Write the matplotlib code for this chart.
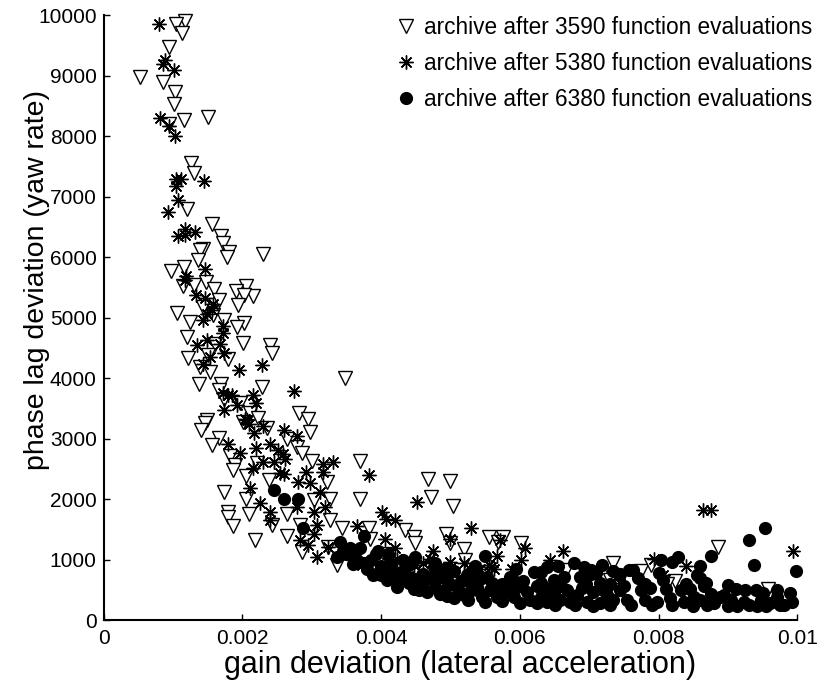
import numpy as np
import matplotlib
matplotlib.use("Agg")
import matplotlib.pyplot as plt

# archive after 3590 function evaluations (gain in 1e-3, phase lag)
gain_3590 = np.array([
    1.18, 1.05, 1.13, 0.94, 0.53, 0.85, 1.03, 1.01, 1.16, 1.50, 0.95, 1.26, 1.31, 1.20,
    1.56, 1.69, 1.72, 1.44, 1.39, 1.81, 1.78, 2.30, 1.36, 0.97, 1.16, 1.15, 1.48, 1.31,
    1.59, 2.06, 1.91, 2.15, 2.03, 1.66, 1.44, 1.94, 1.06, 1.25, 1.58, 1.73, 2.03, 1.93,
    1.20, 1.61, 2.01, 2.40, 2.43, 1.21, 1.51, 1.79, 1.39, 1.54, 3.48, 1.38, 1.69, 2.28,
    1.67, 1.73, 1.96, 2.81, 2.95, 2.11, 1.49, 1.46, 1.40, 1.67, 1.56, 2.01, 2.22, 2.36,
    2.98, 2.64, 2.79, 2.86, 3.00, 3.70, 1.82, 1.90, 1.87, 2.21, 2.06, 2.38, 3.22, 1.73,
    2.06, 3.70, 3.03, 3.27, 1.79, 1.80, 2.09, 2.64, 1.86, 2.43, 2.64, 2.83, 2.18, 3.26,
    3.44, 3.82, 2.86, 3.36, 4.35, 4.47, 4.49, 3.24, 4.67, 4.99, 4.72, 5.03, 4.93, 5.00,
    5.20, 5.21, 5.55, 5.76, 5.68, 6.01, 7.34, 7.35, 4.49, 3.84, 4.06, 8.85, 7.74, 7.89,
    8.24, 8.12, 7.30, 9.57, 6.66,
]) * 1e-3
phase_3590 = np.array([
    9910, 9850, 9700, 9470, 8980, 8900, 8730, 8540, 8270, 8310, 8200, 7550, 7400, 6790,
    6550, 6350, 6230, 6140, 6120, 6090, 6000, 6060, 5960, 5770, 5840, 5520, 5590, 5540,
    5470, 5520, 5440, 5360, 5370, 5290, 5180, 5210, 5080, 4930, 5040, 4960, 4910, 4850,
    4680, 4570, 4580, 4550, 4420, 4340, 4380, 4310, 4190, 4100, 4000, 3910, 3910, 3850,
    3800, 3650, 3590, 3420, 3330, 3420, 3310, 3260, 3140, 3020, 2890, 3280, 3350, 3170,
    3110, 3000, 2860, 2770, 2640, 2640, 2710, 2560, 2480, 2600, 2380, 2310, 2290, 2120,
    2010, 2000, 1980, 2010, 1790, 1710, 1760, 1760, 1550, 1570, 1400, 1570, 1320, 1650,
    1520, 1520, 1130, 910, 1490, 1380, 1270, 1210, 2330, 2300, 2040, 1880, 1420, 1270,
    1170, 1000, 1370, 1380, 1290, 1280, 940, 690, 850, 1350, 1100, 1210, 815, 910,
    650, 605, 660, 510, 830,
])

# archive after 5380 function evaluations
gain_5380 = np.array([
    0.80, 0.89, 0.86, 1.02, 0.81, 0.95, 1.03, 1.04, 1.11, 1.45, 1.05, 1.08, 0.93,
    1.17, 1.08, 1.18, 1.32, 1.46, 1.19, 1.18, 1.33, 1.46, 1.58, 1.56, 1.49, 1.44,
    1.72, 1.72, 1.49, 1.35, 1.68, 1.73, 1.54, 1.44, 1.95, 2.28, 2.75, 2.16, 1.72,
    1.80, 1.85, 2.20, 1.73, 1.92, 2.04, 2.07, 2.10, 2.30, 2.17, 2.60, 2.79, 1.80,
    2.19, 2.40, 2.51, 2.59, 2.62, 1.97, 2.45, 2.30, 3.16, 3.31, 2.15, 2.55, 2.60,
    2.92, 3.17, 3.83, 2.11, 2.80, 2.98, 3.12, 2.26, 2.40, 2.79, 3.03, 3.19, 2.40,
    3.08, 4.01, 4.07, 4.20, 3.65, 3.03, 2.83, 2.95, 3.24, 3.08, 4.06, 4.20, 4.08,
    4.52, 5.29, 4.99, 6.08, 5.67, 6.02, 6.62, 6.44, 4.75, 4.99, 5.19, 5.43, 5.56,
    5.63, 5.89, 5.01, 4.47, 3.72, 4.23, 4.61, 4.71, 5.72, 5.59, 8.64, 8.75, 9.94,
    8.39, 7.93, 8.07, 7.45,
]) * 1e-3
phase_5380 = np.array([
    9860, 9260, 9190, 9100, 8300, 8170, 8010, 7290, 7290, 7260, 7170, 6940, 6750,
    6470, 6350, 6360, 6410, 5800, 5690, 5620, 5370, 5320, 5220, 5120, 5070, 4970,
    4860, 4740, 4640, 4550, 4570, 4410, 4350, 4240, 4140, 4220, 3790, 3720, 3750,
    3720, 3720, 3590, 3480, 3550, 3330, 3310, 3240, 3210, 3100, 3140, 3040, 2920,
    2850, 2920, 2810, 2740, 2670, 2760, 2620, 2620, 2590, 2620, 2510, 2430, 2410,
    2450, 2450, 2400, 2180, 2290, 2270, 2120, 1930, 1790, 1870, 1790, 1870, 1650,
    1570, 1790, 1680, 1650, 1550, 1430, 1320, 1240, 1210, 1050, 1350, 1190, 1100,
    1960, 1520, 1350, 1190, 1070, 1000, 1150, 1000, 1150, 960, 940, 850, 910,
    850, 840, 880, 910, 910, 1020, 940, 1020, 1320, 880, 1830, 1830, 1150,
    900, 1020, 740, 620,
])

# archive after 6380 function evaluations
gain_6380 = np.array([
    2.46, 2.60, 2.80, 2.87, 3.41, 3.55, 3.76, 3.37, 3.59, 3.92, 3.93, 4.13, 4.18,
    4.40, 4.49, 4.52, 4.32, 3.89, 4.06, 4.57, 4.76, 4.78, 4.95, 5.09, 5.24, 5.38,
    4.28, 4.61, 4.71, 4.90, 5.14, 4.08, 4.23, 4.47, 4.66, 4.78, 5.50, 5.26, 6.20,
    6.39, 6.78, 7.19, 7.02, 5.86, 5.36, 5.53, 5.89, 6.92, 7.43, 7.57, 6.63, 6.87,
    7.02, 6.49, 5.38, 5.57, 5.77, 5.96, 6.10, 6.30, 6.49, 6.68, 6.83, 7.06, 7.26,
    7.45, 5.67, 5.91, 6.15, 6.39, 6.58, 6.73, 6.97, 7.16, 7.35, 7.55, 9.53, 9.31,
    9.38, 9.98, 8.76, 8.59, 8.56, 8.68, 8.04, 8.28, 8.20, 7.63, 7.45, 8.07, 9.11,
    9.41, 9.71, 9.93, 9.81, 7.74, 7.88, 8.32, 8.46, 8.75, 8.89, 9.04, 9.23, 9.47,
    9.61, 7.81, 7.98, 8.17, 8.36, 8.60, 8.80, 9.13, 9.42, 8.94, 7.26, 8.51, 5.45,
    5.20, 5.05, 5.15, 5.30, 5.45, 5.60, 5.75, 5.85, 6.05, 6.25, 6.40, 6.55, 6.95,
    7.15, 7.30, 4.85, 4.60, 4.40, 4.95, 5.25, 3.65, 3.80, 4.00, 4.35, 3.50, 3.70,
    4.85, 5.05, 5.25, 5.50, 5.75, 6.00, 6.25, 6.50, 6.80, 7.05, 7.30, 7.60, 7.90,
    8.20, 8.50, 8.70, 9.00, 9.30, 9.55, 9.75,
    5.00, 5.35, 5.70, 6.00, 6.30, 6.60, 6.90, 7.20, 7.50, 7.80, 8.10, 8.40, 8.65,
    9.00, 9.25, 9.50, 9.70, 9.90,
    4.45, 4.90, 5.35, 5.95, 6.30, 6.55, 7.10, 7.35, 7.70, 8.00, 8.60,
    3.45, 3.60, 3.75, 3.85, 4.00, 4.15, 4.30, 4.45, 4.25, 4.55, 3.95, 4.10,
]) * 1e-3
phase_6380 = np.array([
    2160, 2000, 2000, 1530, 1290, 1190, 1400, 1040, 930, 1090, 770, 940, 720,
    620, 1050, 580, 990, 740, 830, 610, 880, 550, 660, 550, 740, 500,
    800, 770, 690, 500, 470, 660, 550, 520, 470, 940, 1070, 770, 800,
    880, 950, 910, 830, 720, 770, 720, 690, 880, 770, 830, 720, 720,
    770, 660, 550, 500, 470, 550, 470, 390, 440, 500, 410, 470, 410,
    500, 390, 390, 330, 300, 330, 300, 300, 280, 330, 330, 1530, 1320,
    920, 815, 1060, 900, 740, 610, 1000, 1040, 960, 830, 760, 660, 510,
    500, 500, 300, 260, 500, 540, 500, 520, 440, 390, 330, 300, 330,
    280, 330, 300, 360, 300, 330, 280, 230, 230, 410, 550, 390, 380,
    420, 820, 650, 600, 700, 620, 600, 520, 650, 560, 520, 600, 600,
    620, 600, 720, 640, 700, 400, 450, 1000, 850, 750, 850, 1100, 1200,
    430, 360, 330, 300, 320, 290, 280, 260, 250, 240, 250, 260, 250,
    260, 240, 250, 230, 250, 240, 260,
    600, 560, 540, 560, 620, 560, 540, 500, 560, 600, 520, 600, 560,
    580, 500, 450, 380, 450,
    950, 850, 900, 850, 800, 900, 780, 820, 700, 780, 700,
    1150, 1050, 950, 1000, 900, 850, 780, 700, 640, 500, 1150, 1100,
])

legend_labels = [
    "archive after 3590 function evaluations",
    "archive after 5380 function evaluations",
    "archive after 6380 function evaluations",
]
x_ticks = [0, 0.002, 0.004, 0.006, 0.008, 0.01]
x_ticklabels = ["0", "0.002", "0.004", "0.006", "0.008", "0.01"]
y_ticks = list(range(0, 10001, 1000))

plt.rcParams['font.family'] = ['Liberation Sans', 'DejaVu Sans']

fig = plt.figure(figsize=(8.22, 6.93), dpi=100)
ax = fig.add_axes([0.126, 0.105, 0.844, 0.873])

ax.plot(gain_3590, phase_3590, linestyle='none', marker='v', markersize=10,
        markerfacecolor='white', markeredgecolor='black', markeredgewidth=1.0,
        label=legend_labels[0], clip_on=False)
ax.plot(gain_5380, phase_5380, linestyle='none', marker=(8, 2, 0), markersize=10,
        color='black', markeredgewidth=1.0, label=legend_labels[1], clip_on=False)
ax.plot(gain_6380, phase_6380, linestyle='none', marker='o', markersize=9.5,
        color='black', markeredgewidth=0, label=legend_labels[2], clip_on=False)

ax.set_xlim(0, 0.01)
ax.set_ylim(0, 10000)
ax.set_xticks(x_ticks)
ax.set_xticklabels(x_ticklabels)
ax.set_yticks(y_ticks)
ax.tick_params(direction='in', length=4.5, width=1, labelsize=15)
ax.tick_params(axis='x', pad=6)
ax.tick_params(axis='y', pad=5)
ax.spines['top'].set_visible(False)
ax.spines['right'].set_visible(False)
ax.spines['left'].set_linewidth(1.5)
ax.spines['bottom'].set_linewidth(1.5)

ax.set_xlabel("gain deviation (lateral acceleration)", fontsize=22)
ax.set_ylabel("phase lag deviation (yaw rate)", fontsize=20.5)
ax.xaxis.set_label_coords(0.514, -0.05)
ax.yaxis.set_label_coords(-0.077, 0.562)

fig.legend(loc='upper right', bbox_to_anchor=(0.999, 0.99), frameon=False,
           fontsize=16.3, handletextpad=0.3, labelspacing=0.58, handlelength=1.0,
           borderaxespad=0)

fig.savefig("out.png", dpi=100)
